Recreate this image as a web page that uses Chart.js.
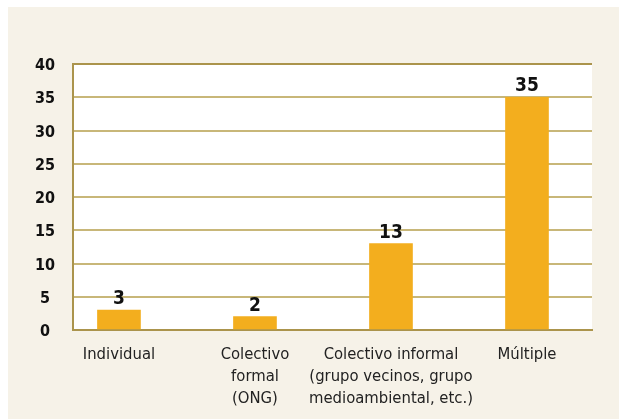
<!DOCTYPE html>
<html>
<head>
<meta charset="utf-8">
<script src="https://cdn.jsdelivr.net/npm/chart.js@4"></script>
<style>
  html { margin: 0; padding: 0; background: #f6f2e8; overflow: hidden; }
  body {
    margin: 0; padding: 0; box-sizing: border-box; min-height: 100vh;
    border-top: 7px solid #ffffff; border-left: 8px solid #ffffff;
    background: #f6f2e8;
  }
  canvas { display: block; }
</style>
</head>
<body>
<canvas id="myChart" width="611" height="412"></canvas>
<script>
const categories = [
  ['Individual'],
  ['Colectivo', 'formal', '(ONG)'],
  ['Colectivo informal', '(grupo vecinos, grupo', 'medioambiental, etc.)'],
  ['Múltiple']
];
const values = [3, 2, 13, 35];
const yTicks = [0, 5, 10, 15, 20, 25, 30, 35, 40];

const FONT = '"DejaVu Sans Condensed", "DejaVu Sans", sans-serif';
const barColor = '#f3ae1e';
const gridColor = '#c8b779';
const borderColor = '#ab944c';

// white plot area behind the bars
const plotBackground = {
  id: 'plotBackground',
  beforeDraw(chart) {
    const { ctx, chartArea: a } = chart;
    ctx.save();
    ctx.fillStyle = '#ffffff';
    ctx.fillRect(a.left, a.top, a.right - a.left, a.bottom - a.top);
    ctx.restore();
  }
};

// numbers above each bar
const valueLabels = {
  id: 'valueLabels',
  afterDatasetsDraw(chart) {
    const { ctx } = chart;
    const meta = chart.getDatasetMeta(0);
    ctx.save();
    ctx.font = 'bold 19px ' + FONT;
    ctx.fillStyle = '#111111';
    ctx.textAlign = 'center';
    ctx.textBaseline = 'alphabetic';
    meta.data.forEach((bar, i) => {
      ctx.fillText(String(values[i]), bar.x, bar.y - 6);
    });
    ctx.restore();
  }
};

const ctx = document.getElementById('myChart').getContext('2d');
new Chart(ctx, {
  type: 'bar',
  data: {
    datasets: [{
      data: values.map((v, i) => ({ x: i, y: v })),
      backgroundColor: barColor,
      borderWidth: 0,
      barThickness: 43
    }]
  },
  options: {
    responsive: false,
    animation: false,
    layout: { padding: { left: 0, right: 27, top: 57, bottom: 0 } },
    plugins: {
      legend: { display: false },
      tooltip: { enabled: false }
    },
    scales: {
      x: {
        type: 'linear',
        min: -0.338,
        max: 3.478,
        offset: false,
        afterBuildTicks: (axis) => { axis.ticks = categories.map((c, i) => ({ value: i })); },
        afterFit: (axis) => { axis.height = 89; },
        grid: { display: false, offset: false, drawTicks: false },
        border: { display: true, color: borderColor, width: 2 },
        ticks: {
          autoSkip: false,
          maxRotation: 0,
          padding: 13,
          color: '#222222',
          font: { family: FONT, size: 16.5, lineHeight: 1.36 },
          callback: (value) => categories[value]
        }
      },
      y: {
        min: 0,
        max: 40,
        afterBuildTicks: (axis) => { axis.ticks = yTicks.map(v => ({ value: v })); },
        afterFit: (axis) => { axis.width = 65; },
        grid: {
          drawTicks: false,
          lineWidth: 2,
          color: (c) => (c.tick && c.tick.value === 40 ? borderColor : gridColor)
        },
        border: { display: true, color: borderColor, width: 2 },
        ticks: {
          padding: 18,
          labelOffset: 2,
          crossAlign: 'center',
          color: '#111111',
          font: { family: FONT, size: 16, weight: 'bold' }
        }
      }
    }
  },
  plugins: [plotBackground, valueLabels]
});
</script>
</body>
</html>
